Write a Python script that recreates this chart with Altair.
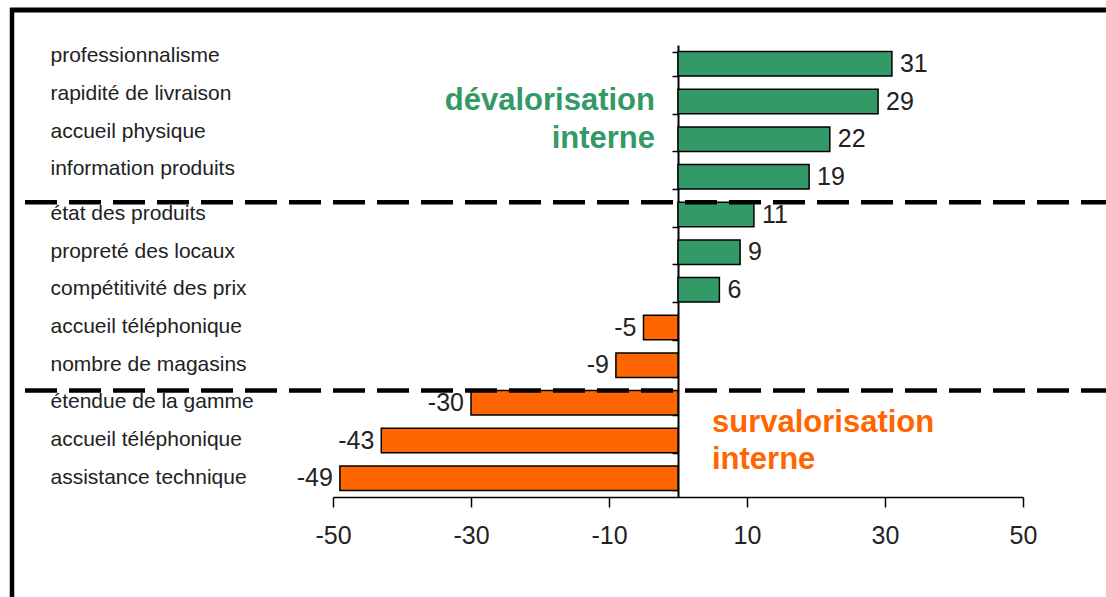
import altair as alt
import pandas as pd

labels = ["professionnalisme", "rapidité de livraison", "accueil physique",
          "information produits", "état des produits", "propreté des locaux",
          "compétitivité des prix", "accueil téléphonique", "nombre de magasins",
          "étendue de la gamme", "accueil téléphonique", "assistance technique"]
values = [31, 29, 22, 19, 11, 9, 6, -5, -9, -30, -43, -49]
x_ticks = [-50, -30, -10, 10, 30, 50]
separators_before = [4, 9]

keys = [f"{i:02d}|{l}" for i, l in enumerate(labels)]
df = pd.DataFrame({"key": keys, "label": labels, "v": values})
df["lab"] = [str(v) for v in values]
df["grp"] = ["pos" if v > 0 else "neg" for v in values]
sep_df = pd.DataFrame({"key": [keys[i] for i in separators_before]})
one = pd.DataFrame({"a": [0]})

FONT = "Liberation Sans"
GREEN = "#339966"
ORANGE = "#FF6600"

xscale = alt.Scale(domain=[-50, 50], nice=False, zero=True)
yscale = alt.Scale(paddingInner=0.35, paddingOuter=0.175)

x_axis = alt.Axis(title=None, values=x_ticks, grid=False, domainColor="black",
                  domainWidth=1.5, tickColor="black", tickWidth=1.5, tickSize=10,
                  labelFont=FONT, labelFontSize=25, labelColor="#222",
                  labelPadding=16, labelFlush=False, labelExpr="'' + datum.value")
y_axis = alt.Axis(title=None, orient="left", offset=-345, grid=False,
                  domainColor="black", domainWidth=2, tickBand="extent",
                  tickSize=6, tickColor="black", tickWidth=1.5,
                  labelAlign="left", labelPadding=622, labelBaseline="middle",
                  labelFont=FONT, labelFontSize=21, labelColor="#222", labelLimit=0,
                  labelOffset={"condition": {"test": "datum.value < '04'", "value": -8},
                               "value": -1},
                  labelExpr="split(datum.label, '|')[1]")

base = alt.Chart(df)

bars = base.mark_bar(stroke="black", strokeWidth=1.5).encode(
    x=alt.X("v:Q", scale=xscale, axis=x_axis),
    y=alt.Y("key:N", scale=yscale, axis=y_axis, sort=None),
    color=alt.Color("grp:N", scale=alt.Scale(domain=["pos", "neg"], range=[GREEN, ORANGE]), legend=None),
)

pos_text = base.transform_filter("datum.v > 0").mark_text(
    align="left", baseline="middle", dx=8, dy=0, font=FONT, fontSize=25, color="#222"
).encode(x=alt.X("v:Q", scale=xscale), y=alt.Y("key:N", sort=None), text="lab:N")

neg_text = base.transform_filter("datum.v < 0").mark_text(
    align="right", baseline="middle", dx=-7, dy=0, font=FONT, fontSize=25, color="#222"
).encode(x=alt.X("v:Q", scale=xscale), y=alt.Y("key:N", sort=None), text="lab:N")

seps = alt.Chart(sep_df).mark_rule(color="black", strokeWidth=4.5, strokeDash=[32, 12]).encode(
    y=alt.Y("key:N", bandPosition=0, sort=None),
    x=alt.value(-308), x2=alt.value(773),
)

frame_top = alt.Chart(one).mark_rule(color="black", strokeWidth=5).encode(
    y=alt.value(-35), x=alt.value(-323), x2=alt.value(780))
frame_left = alt.Chart(one).mark_rule(color="black", strokeWidth=4.5).encode(
    x=alt.value(-321), y=alt.value(-37), y2=alt.value(560))

ann_green = alt.Chart(one).mark_text(
    align="right", baseline="alphabetic", font=FONT, fontSize=31, fontWeight="bold",
    color=GREEN, lineHeight=38
).encode(x=alt.value(322), y=alt.value(65), text=alt.value(["dévalorisation", "interne"]))

ann_orange = alt.Chart(one).mark_text(
    align="left", baseline="alphabetic", font=FONT, fontSize=31, fontWeight="bold",
    color=ORANGE, lineHeight=37
).encode(x=alt.value(379), y=alt.value(387), text=alt.value(["survalorisation", "interne"]))

chart = alt.layer(bars, pos_text, neg_text, seps, frame_top, frame_left, ann_green, ann_orange).properties(
    width=690, height=452,
    padding={"left": 333, "top": 45, "right": 83, "bottom": 100},
    autosize=alt.AutoSizeParams(type="none"),
    background="white",
).configure_view(stroke=None)

chart.save("out.html", embed_options={"renderer": "svg", "actions": False})
